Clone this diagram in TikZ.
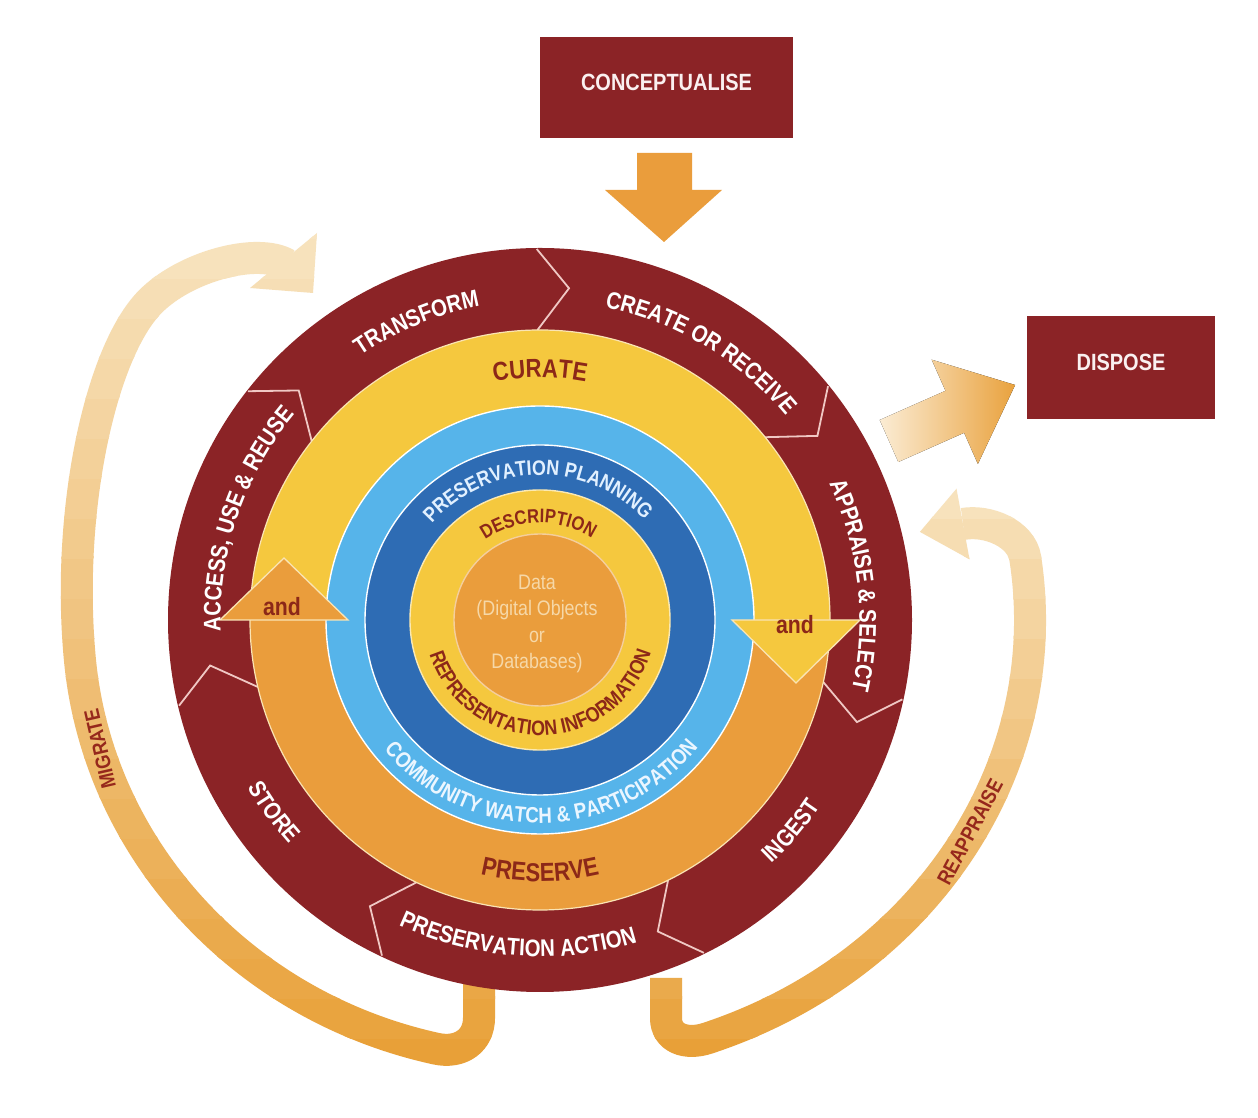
\documentclass[tikz,border=0pt]{standalone}
\usepackage{fontspec}
\newfontfamily\lab{Liberation Sans}[FakeStretch=0.85]
\usetikzlibrary{decorations.text}
\definecolor{dred}{RGB}{139,35,38}
\definecolor{cyel}{RGB}{245,200,62}
\definecolor{corg}{RGB}{234,157,60}
\definecolor{lblue}{RGB}{86,180,234}
\definecolor{dblue}{RGB}{46,108,180}
\definecolor{txtred}{RGB}{140,40,24}
\definecolor{cream}{RGB}{246,216,168}
\definecolor{chevc}{RGB}{240,200,196}
\definecolor{migbot}{RGB}{232,160,56}
\definecolor{migtop}{RGB}{248,230,196}
\definecolor{dispL}{RGB}{251,236,212}
\definecolor{dispR}{RGB}{233,162,62}
\definecolor{headc}{RGB}{250,228,180}
\definecolor{boxwhite}{RGB}{250,240,240}
\definecolor{planc}{RGB}{225,240,255}
\definecolor{commc}{RGB}{235,246,255}
\definecolor{migtxt}{RGB}{150,40,28}
\newcommand\fntOuter{\lab\bfseries\fontsize{24}{24}\selectfont}
\newcommand\fntCur{\lab\bfseries\fontsize{26}{26}\selectfont}
\newcommand\fntPlan{\lab\bfseries\fontsize{21}{21}\selectfont}
\newcommand\fntComm{\lab\bfseries\fontsize{22}{22}\selectfont}
\newcommand\fntDesc{\lab\bfseries\fontsize{19.5}{19.5}\selectfont}
\newcommand\fntRep{\lab\bfseries\fontsize{21}{21}\selectfont}
\newcommand\cwlab[6]{\path[decorate,decoration={text along path,text align=center,text color=#5,text={|#4|#6}}] (#1+#3:#2) arc[start angle=#1+#3,end angle=#1-#3,radius=#2];}
\newcommand\ccwlab[6]{\path[decorate,decoration={text along path,text align=center,text color=#5,text={|#4|#6}}] (#1-#3:#2) arc[start angle=#1-#3,end angle=#1+#3,radius=#2];}
\def\migband{(479,140) -- (479,100) .. controls (479,78) and (461.1,63.9) .. (436.1,69.3) arc[start angle=257,end angle=185,x radius=462,y radius=440] .. controls (66,609) and (101,766) .. (150,816) .. controls (185,851.7) and (257.3,871) .. (287,853.5)}
\def\mighead{(317,885) -- (313,825) -- (250,830) -- cycle}
\def\reaband{(666,140) -- (666,100) .. controls (666,80) and (685.6,72.5) .. (707.6,79.8) arc[start angle=-70,end angle=8,x radius=490,y radius=445] .. controls (1021.4,584.6) and (987.5,598.5) .. (963,594)}
\def\reahead{(956.5,629.3) -- (919.9,586.1) -- (969.5,558.7) -- cycle}
\begin{document}
\begin{tikzpicture}[x=1pt,y=1pt,
  box/.style={fill=dred,draw=none,inner sep=0pt},
  boxtxt/.style={text=boxwhite,font=\lab\bfseries\fontsize{23.5}{23.5}\selectfont,inner sep=0pt},
  andtxt/.style={text=txtred,font=\lab\bfseries\fontsize{25}{25}\selectfont,inner sep=0pt},
  sidetxt/.style={text=migtxt,font=\lab\bfseries\fontsize{21}{21}\selectfont,inner sep=0pt},
  chevline/.style={draw=chevc,line width=1.8pt,line join=miter},
  ringline/.style={draw=white,line width=1.4pt},
  headline/.style={draw=headc,line width=1.3pt,line join=miter}]
\useasboundingbox (0,0) rectangle (1258,1118);
\fill[white] (0,0) rectangle (1258,1118);

% ---- migrate arrow (vertical colour gradient by strips)
\foreach \i in {0,...,22}{%
  \pgfmathsetmacro\yb{40+40*\i}%
  \pgfmathtruncatemacro\pc{max(0,min(100,100-(\yb-40)/8.6))}%
  \begin{scope}
    \clip (0,\yb-1) rectangle (650,\yb+41);
    \draw[line width=32pt,draw=migbot!\pc!migtop] \migband;
    \fill[migbot!\pc!migtop] \mighead;
  \end{scope}
}
% ---- reappraise arrow
\foreach \i in {0,...,15}{%
  \pgfmathsetmacro\yb{40+40*\i}%
  \pgfmathtruncatemacro\pc{max(0,min(100,100-(\yb-40)/6))}%
  \begin{scope}
    \clip (600,\yb-1) rectangle (1258,\yb+41);
    \draw[line width=32pt,draw=migbot!\pc!migtop] \reaband;
    \fill[migbot!\pc!migtop] \reahead;
  \end{scope}
}

% ---- dispose arrow
\fill[left color=dispL,right color=dispR] (879.7,698) -- (945.5,727.2) -- (931.7,758.3) -- (1015.1,733) -- (977.9,654.1) -- (964.1,685.2) -- (898.3,656) -- cycle;

% ---- boxes
\node[box,minimum width=253pt,minimum height=101pt] (concept) at (666.5,1030.5) {};
\node[boxtxt] (concepttext) at (666.5,1036) {CONCEPTUALISE};
\node[box,minimum width=188pt,minimum height=103pt] (dispose) at (1121,750.5) {};
\node[boxtxt] (disposetext) at (1121,756) {DISPOSE};

% ---- conceptualise arrow
\fill[corg] (637,965) -- (692,965) -- (692,928) -- (722,928) -- (664,876) -- (605,928) -- (637,928) -- cycle;

% ---- main circle
\begin{scope}[shift={(540,498)}]
  \fill[dred] (0,0) circle[radius=372];
  \foreach \k in {0,...,6}{%
    \pgfmathsetmacro\a{90.5-51.4286*\k}%
    \draw[chevline] (\a:290) -- (\a-5.5:333) -- (\a:371);
  }
  \fill[cyel] (0:290) arc[start angle=0,end angle=180,radius=290] -- (180:214) arc[start angle=180,end angle=0,radius=214] -- cycle;
  \fill[corg] (0:290) arc[start angle=0,end angle=-180,radius=290] -- (180:214) arc[start angle=-180,end angle=0,radius=214] -- cycle;
  \draw[draw=headc,line width=1.2pt] (0,0) circle[radius=290];
  \fill[lblue] (0,0) circle[radius=214];
  \fill[dblue] (0,0) circle[radius=175];
  \fill[cyel] (0,0) circle[radius=130];
  \fill[corg] (0,0) circle[radius=86];
  \draw[ringline] (0,0) circle[radius=214];
  \draw[ringline] (0,0) circle[radius=175];
  \draw[ringline,draw=white!60!cyel] (0,0) circle[radius=130];
  \draw[ringline,draw=white!50!corg] (0,0) circle[radius=86];
  % and-arrowheads
  \fill[corg,headline] (-320,0) -- (-192,0) -- (-256,62) -- cycle;
  \fill[cyel,headline] (192,0) -- (320,0) -- (256,-63) -- cycle;
  \node[andtxt] (andleft) at (-258,13) {and};
  \node[andtxt] (andright) at (255,-5) {and};
  % outer ring labels
  \cwlab{112.5}{319.5}{60}{\fntOuter}{white}{TRANSFORM}
  \cwlab{59}{319.5}{60}{\fntOuter}{white}{CREATE OR RECEIVE}
  \cwlab{6.3}{319.5}{60}{\fntOuter}{white}{APPRAISE {\&} SELECT}
  \cwlab{161}{319.5}{60}{\fntOuter}{white}{ACCESS, USE {\&} REUSE}
  \ccwlab{-40}{336.5}{60}{\fntOuter}{white}{INGEST}
  \ccwlab{-94}{336.5}{60}{\fntOuter}{white}{PRESERVATION ACTION}
  \ccwlab{215.8}{336.5}{60}{\fntOuter}{white}{STORE}
  % curate / preserve
  \cwlab{90}{242.5}{60}{\fntCur}{txtred}{CURATE}
  \ccwlab{-90}{261.5}{60}{\fntCur}{txtred}{PRESERVE}
  % blue rings
  \cwlab{91}{145}{85}{\fntPlan}{planc}{PRESERVATION PLANNING}
  \ccwlab{270.5}{203}{85}{\fntComm}{commc}{COMMUNITY WATCH {\&} PARTICIPATION}
  % inner yellow
  \cwlab{91}{97}{80}{\fntDesc}{txtred}{DESCRIPTION}
  \ccwlab{270.5}{115.5}{100}{\fntRep}{txtred}{REPRESENTATION INFORMATION}
  \node[align=center,text=cream,font=\lab\fontsize{21}{26.5}\selectfont,inner sep=0pt] (data) at (-3,-4) {Data\\(Digital Objects\\or\\Databases)};
\end{scope}

\node[sidetxt,rotate=103] (migrate) at (100,369) {MIGRATE};
\node[sidetxt,rotate=62] (reappraise) at (970,286) {REAPPRAISE};
\end{tikzpicture}
\end{document}
